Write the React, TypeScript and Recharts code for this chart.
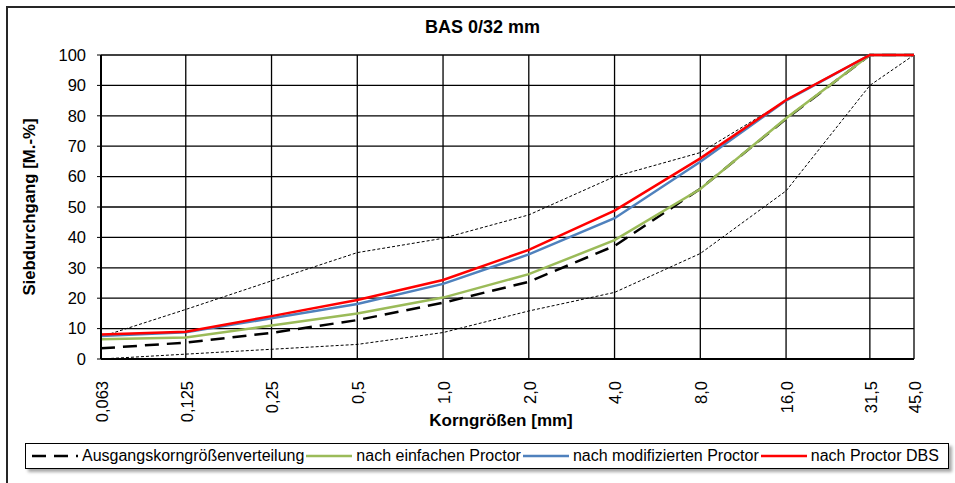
import React from "react";
import { LineChart, Line, XAxis, YAxis, CartesianGrid } from "recharts";

const sieveSizes = [0.063, 0.125, 0.25, 0.5, 1, 2, 4, 8, 16, 31.5, 45];
const sieveLabels = ["0,063", "0,125", "0,25", "0,5", "1,0", "2,0", "4,0", "8,0", "16,0", "31,5", "45,0"];
const yTicks = [0, 10, 20, 30, 40, 50, 60, 70, 80, 90, 100];

const ausgang = [3.5, 5.4, 8.6, 12.8, 18.5, 25.4, 37.2, 56, 79, 100, 100];
const einfach = [6.5, 7.1, 11, 15, 20.2, 27.9, 39.1, 55.9, 79.2, 100, 100];
const modifiziert = [7.6, 8.8, 13.4, 18.1, 24.7, 34.4, 46.3, 64.9, 85, 100, 100];
const dbs = [8.1, 9.0, 14.1, 19.4, 26, 35.9, 48.8, 66, 85.2, 100, 100];
const upperLimit = [7.3, 16.3, 25.7, 35, 39.7, 47.4, 60, 67.9, 85, 100, 100];
const lowerLimit = [0, 1.6, 3.2, 4.8, 8.7, 15.8, 21.9, 34.7, 55.3, 90, 100];

const data = sieveSizes.map((size, i) => ({
  size,
  ausgang: ausgang[i],
  einfach: einfach[i],
  modifiziert: modifiziert[i],
  dbs: dbs[i],
  upper: upperLimit[i],
  lower: lowerLimit[i],
}));

const font = "'Liberation Sans', Arial, sans-serif";

const legendItems = [
  { name: "Ausgangskorngrößenverteilung", color: "#000", dash: "14 8" },
  { name: "nach einfachen Proctor", color: "#9BBB59", dash: undefined },
  { name: "nach modifizierten Proctor", color: "#4F81BD", dash: undefined },
  { name: "nach Proctor DBS", color: "#FF0000", dash: undefined },
];

function XTick(props: any) {
  const { x, y, payload } = props;
  const idx = sieveSizes.indexOf(payload.value);
  return (
    <text
      transform={`translate(${x + 1},${y + 14}) rotate(-90)`}
      textAnchor="end"
      dy="0.35em"
      fontSize={16.5}
      fontFamily={font}
      fill="#000"
    >
      {idx >= 0 ? sieveLabels[idx] : payload.value}
    </text>
  );
}

export default function App() {
  return (
    <div style={{ position: "absolute", left: 0, top: 0, width: 955, height: 483, overflow: "hidden", background: "#fff", fontFamily: font }}>
      <div style={{ position: "absolute", left: 6, top: 6, width: 1000, height: 1000, border: "2px solid #262626" }} />
      <div style={{ position: "absolute", left: 0, top: 0 }}>
        <LineChart width={955} height={483} data={data} margin={{ top: 55, right: 41, left: 41, bottom: 0 }}>
          <CartesianGrid stroke="#000" strokeWidth={1.3} />
          <XAxis
            dataKey="size"
            type="number"
            scale="log"
            domain={[0.063, 45]}
            ticks={sieveSizes}
            interval={0}
            height={124}
            tickLine={false}
            axisLine={{ stroke: "#000", strokeWidth: 2 }}
            tick={<XTick />}
            allowDataOverflow
          />
          <YAxis
            domain={[0, 100]}
            ticks={yTicks}
            interval={0}
            width={60}
            tickSize={4}
            tickLine={{ stroke: "#000" }}
            axisLine={{ stroke: "#000", strokeWidth: 2 }}
            tick={{ fontSize: 16.5, fontFamily: font, fill: "#000", dx: -9 }}
          />
          <Line dataKey="upper" stroke="#000" strokeWidth={1} strokeDasharray="3 2" dot={false} isAnimationActive={false} />
          <Line dataKey="lower" stroke="#000" strokeWidth={1} strokeDasharray="3 2" dot={false} isAnimationActive={false} />
          <Line dataKey="ausgang" stroke="#000" strokeWidth={2.5} strokeDasharray="14 8" dot={false} isAnimationActive={false} />
          <Line dataKey="einfach" stroke="#9BBB59" strokeWidth={2.5} dot={false} isAnimationActive={false} />
          <Line dataKey="modifiziert" stroke="#4F81BD" strokeWidth={2.5} dot={false} isAnimationActive={false} />
          <Line dataKey="dbs" stroke="#FF0000" strokeWidth={2.5} dot={false} isAnimationActive={false} />
        </LineChart>
      </div>
      <div style={{ position: "absolute", left: 0, width: 965, top: 17, textAlign: "center", fontWeight: "bold", fontSize: 18 }}>
        BAS 0/32 mm
      </div>
      <div
        style={{
          position: "absolute",
          left: 30,
          top: 207,
          transform: "translate(-50%, -50%) rotate(-90deg)",
          whiteSpace: "nowrap",
          fontWeight: "bold",
          fontSize: 16.8,
        }}
      >
        Siebdurchgang [M.-%]
      </div>
      <div
        style={{
          position: "absolute",
          left: 501,
          top: 421,
          transform: "translate(-50%, -50%)",
          whiteSpace: "nowrap",
          fontWeight: "bold",
          fontSize: 17,
        }}
      >
        Korngrößen [mm]
      </div>
      <div
        style={{
          position: "absolute",
          left: 25,
          top: 443,
          width: 916,
          height: 24,
          border: "1px solid #000",
          boxShadow: "3px 3px 3px rgba(0,0,0,0.35)",
          background: "#fff",
          display: "flex",
          alignItems: "center",
          paddingLeft: 6,
          boxSizing: "content-box",
        }}
      >
        {legendItems.map((item) => (
          <div key={item.name} style={{ display: "flex", alignItems: "center", marginRight: 2 }}>
            <svg width={46} height={10}>
              <line x1={0} y1={5} x2={46} y2={5} stroke={item.color} strokeWidth={2.5} strokeDasharray={item.dash} />
            </svg>
            <span style={{ fontSize: 16, marginLeft: 4, whiteSpace: "nowrap" }}>{item.name}</span>
          </div>
        ))}
      </div>
    </div>
  );
}
